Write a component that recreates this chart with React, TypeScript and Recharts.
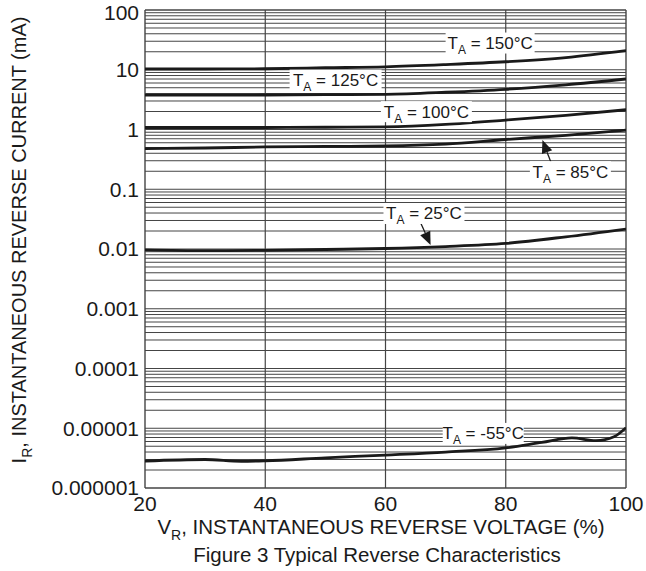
import React from "react";
import {
  LineChart,
  Line,
  XAxis,
  YAxis,
  ReferenceLine,
  ReferenceDot,
} from "recharts";

// reverse voltage, % of rated
const vr = [20, 30, 40, 50, 60, 70, 80, 90, 100];

// reverse current (mA) per junction temperature
const ir150 = [10.3, 10.3, 10.4, 10.8, 11.2, 12.2, 13.6, 16, 20.9];
const ir125 = [3.75, 3.75, 3.78, 3.82, 3.88, 4.2, 4.7, 5.6, 7.0];
const ir100 = [1.08, 1.08, 1.08, 1.09, 1.11, 1.22, 1.44, 1.73, 2.14];
const ir85 = [0.48, 0.49, 0.51, 0.52, 0.53, 0.57, 0.68, 0.8, 0.98];
const ir25 = [0.0097, 0.0094, 0.0095, 0.0098, 0.0102, 0.011, 0.0124, 0.016, 0.0216];

// -55°C curve is sampled on its own points (it has a small kink near 92%)
const vrCold = [20, 30, 36, 40, 50, 60, 70, 80, 86, 91, 95, 98, 100];
const irCold = [
  2.83e-6, 3.0e-6, 2.8e-6, 2.85e-6, 3.2e-6, 3.56e-6, 4.0e-6, 4.7e-6, 5.8e-6,
  6.9e-6, 6.2e-6, 7.2e-6, 1.02e-5,
];

const xTicks = [20, 40, 60, 80, 100];
const yTicks = [1e-6, 1e-5, 1e-4, 1e-3, 1e-2, 1e-1, 1, 10, 100];
const yTickLabels = [
  "0.000001",
  "0.00001",
  "0.0001",
  "0.001",
  "0.01",
  "0.1",
  "1",
  "10",
  "100",
];
const minorSteps = [2, 3, 4, 5, 6, 7, 8, 9];
const xGrid = [40, 60, 80];

// curve tags: [label, x, y, box width]
const tagText = ["150°C", "125°C", "100°C", "85°C", "25°C", "-55°C"];
const tagX = [77.4, 51.7, 66.8, 90.75, 66.4, 76.25];
const tagY = [28, 6.7, 1.99, 0.197, 0.0393, 8.2e-6];
const tagW = [89, 92, 91, 81, 81, 81];

// leader arrows: tail -> tip
const arrowFrom = [
  { x: 87.8, y: 0.239 },
  { x: 65.5, y: 0.0327 },
];
const arrowTo = [
  { x: 86.1, y: 0.667 },
  { x: 67.5, y: 0.0117 },
];

const table = vr.map((v, i) => ({
  v,
  t150: ir150[i],
  t125: ir125[i],
  t100: ir100[i],
  t85: ir85[i],
  t25: ir25[i],
}));
const coldData = vrCold.map((v, i) => ({ v, tm55: irCold[i] }));

const gridValues: number[] = [];
yTicks.slice(0, -1).forEach((d) => {
  minorSteps.forEach((m) => gridValues.push(d * m));
  if (d > 1e-6) gridValues.push(d);
});

const FONT = "'Liberation Sans', Arial, sans-serif";
const INK = "#1a1a1a";
const GRID = "#444";

function makeTag(text: string, w: number) {
  return (props: any) => {
    const { cx, cy } = props;
    if (cx == null || cy == null) return <g />;
    return (
      <g>
        <rect x={cx - w / 2} y={cy - 10.5} width={w} height={21} fill="#fff" />
        <text
          x={cx}
          y={cy + 6}
          textAnchor="middle"
          fontFamily={FONT}
          fontSize={17}
          fill={INK}
        >
          <tspan>T</tspan>
          <tspan dy={5} fontSize={12}>
            A
          </tspan>
          <tspan dy={-5}>{" = " + text}</tspan>
        </text>
      </g>
    );
  };
}

function Arrow(props: any) {
  const { x1, y1, x2, y2 } = props;
  if ([x1, y1, x2, y2].some((n) => n == null || isNaN(n))) return <g />;
  const dx = x2 - x1;
  const dy = y2 - y1;
  const len = Math.sqrt(dx * dx + dy * dy) || 1;
  const ux = dx / len;
  const uy = dy / len;
  const head = 13;
  const half = 5.5;
  const bx = x2 - ux * head;
  const by = y2 - uy * head;
  const pts = `${x2},${y2} ${bx - uy * half},${by + ux * half} ${bx + uy * half},${by - ux * half}`;
  return (
    <g>
      <line x1={x1} y1={y1} x2={bx} y2={by} stroke={INK} strokeWidth={1.3} />
      <polygon points={pts} fill={INK} />
    </g>
  );
}

function XTitle(props: any) {
  const vb = props.viewBox || {};
  const cx = 381;
  const top = vb.y ?? 488;
  return (
    <g fontFamily={FONT} fill={INK}>
      <text x={cx} y={top + 46} textAnchor="middle" fontSize={20.5}>
        <tspan>V</tspan>
        <tspan dy={6} fontSize={14}>
          R
        </tspan>
        <tspan dy={-6}>, INSTANTANEOUS REVERSE VOLTAGE (%)</tspan>
      </text>
      <text x={cx - 4} y={top + 74} textAnchor="middle" fontSize={20.5}>
        Figure 3 Typical Reverse Characteristics
      </text>
    </g>
  );
}

function YTitle() {
  return (
    <text
      transform="translate(26,240) rotate(-90)"
      textAnchor="middle"
      fontFamily={FONT}
      fontSize={20}
      fill={INK}
    >
      <tspan>I</tspan>
      <tspan dy={6} fontSize={14}>
        R
      </tspan>
      <tspan dy={-6}>, INSTANTANEOUS REVERSE CURRENT (mA)</tspan>
    </text>
  );
}

const curveProps = {
  type: "monotone" as const,
  stroke: INK,
  strokeWidth: 2.8,
  dot: false,
  activeDot: false,
  isAnimationActive: false,
};

export default function App() {
  return (
    <div style={{ position: "absolute", left: 0, top: 0, background: "#fff" }}>
      <LineChart
        width={646}
        height={571}
        data={table}
        margin={{ top: 10, right: 20, left: 0, bottom: 0 }}
      >
        <XAxis
          dataKey="v"
          type="number"
          domain={[20, 100]}
          ticks={xTicks}
          allowDataOverflow
          axisLine={false}
          tickLine={false}
          height={83}
          tickMargin={2}
          tick={{ fontFamily: FONT, fontSize: 21, fill: INK }}
          label={<XTitle />}
        />
        <YAxis
          type="number"
          scale="log"
          domain={[1e-6, 100]}
          ticks={yTicks}
          allowDataOverflow
          axisLine={false}
          tickLine={false}
          width={145}
          tickMargin={0}
          tick={{ fontFamily: FONT, fontSize: 21, fill: INK }}
          tickFormatter={(v: number) => {
            const i = yTicks.findIndex((t) => Math.abs(Math.log10(t) - Math.log10(v)) < 1e-6);
            return i >= 0 ? yTickLabels[i] : "";
          }}
        />
        {gridValues.map((g) => (
          <ReferenceLine key={"h" + g} y={g} stroke={GRID} strokeWidth={1} ifOverflow="visible" />
        ))}
        {xGrid.map((g) => (
          <ReferenceLine key={"v" + g} x={g} stroke={GRID} strokeWidth={1.2} ifOverflow="visible" />
        ))}
        <ReferenceLine x={20} stroke={GRID} strokeWidth={1.4} ifOverflow="visible" />
        <ReferenceLine x={100} stroke={GRID} strokeWidth={1.4} ifOverflow="visible" />
        <ReferenceLine y={1e-6} stroke={GRID} strokeWidth={1.4} ifOverflow="visible" />
        <ReferenceLine y={100} stroke={GRID} strokeWidth={1.4} ifOverflow="visible" />

        <Line dataKey="t150" {...curveProps} />
        <Line dataKey="t125" {...curveProps} />
        <Line dataKey="t100" {...curveProps} />
        <Line dataKey="t85" {...curveProps} />
        <Line dataKey="t25" {...curveProps} />
        <Line data={coldData} dataKey="tm55" {...curveProps} />

        {tagText.map((t, i) => (
          <ReferenceDot
            key={"tag" + i}
            x={tagX[i]}
            y={tagY[i]}
            r={0}
            ifOverflow="visible"
            shape={makeTag(t, tagW[i])}
          />
        ))}
        {arrowFrom.map((a, i) => (
          <ReferenceLine
            key={"arr" + i}
            segment={[a, arrowTo[i]]}
            ifOverflow="visible"
            shape={(p: any) => <Arrow {...p} />}
          />
        ))}
        <YTitle />
      </LineChart>
    </div>
  );
}
